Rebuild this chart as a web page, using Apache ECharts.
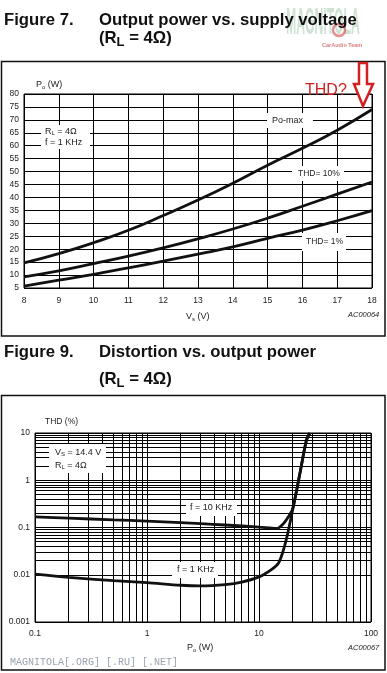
<!DOCTYPE html>
<html><head><meta charset="utf-8">
<script src="https://cdn.jsdelivr.net/npm/echarts@6/dist/echarts.min.js"></script>
<style>html,body{margin:0;padding:0;background:#fff}#c{width:387px;height:673px}</style>
</head><body><div id="c"></div>
<script>
// ---- Figure 7 data: output power vs supply voltage ----
const supplyVoltage = [8, 9, 10, 11, 12, 13, 14, 15, 16, 17, 18];
const poMax   = [14.7, 18.3, 22.5, 27.3, 33, 39, 45.5, 52.5, 59, 66, 74];
const poThd10 = [9.3, 11.6, 14.4, 17.3, 20.5, 24, 27.8, 32, 36.6, 41.3, 46];
const poThd1  = [5.7, 8, 10.3, 12.8, 15.4, 18.1, 20.9, 24.2, 27.4, 31, 34.9];

// ---- Figure 9 data: distortion vs output power ----
const power1k = [0.1, 0.2, 0.5, 1, 2, 3, 5, 7, 10, 13, 14.9, 16.3, 17.8, 20, 23.2, 26.5, 28.5];
const thd1k   = [0.0103, 0.0088, 0.0075, 0.0068, 0.006, 0.0058, 0.0062, 0.007, 0.009, 0.013, 0.0175, 0.03, 0.065, 0.24, 1.4, 7, 10];
const power10k = [0.1, 0.2, 0.5, 1, 2, 3, 5, 10, 14.4, 16.5, 18.3, 20, 23.2, 26.5, 28.5];
const thd10k   = [0.168, 0.158, 0.145, 0.137, 0.127, 0.121, 0.113, 0.102, 0.095, 0.12, 0.168, 0.25, 1.4, 7, 10];

const logXDecades = [0.1, 1, 10];
const logYDecades = [0.001, 0.01, 0.1, 1];

const FONT = "'Liberation Sans', Arial, Helvetica, sans-serif";
const cv = document.createElement('canvas').getContext('2d');
function tw(t, font) { cv.font = font; return cv.measureText(t).width; }
function run(x, y, parts, d) {
  const els = []; let cx = x;
  for (const p of parts) {
    const size = p.s || d.s; const w = p.w || d.w || 'normal';
    const font = `${w} ${size}px ${FONT}`;
    els.push({type: 'text', x: cx, y: y + (p.dy || 0), z: 100, silent: true,
      style: {text: p.t, font: font, fill: p.c || d.c || '#222', align: 'left', verticalAlign: 'middle'}});
    cx += tw(p.t, font);
  }
  return els;
}
function whiteBox(x, y, w, h) {
  return {type: 'rect', z: 99, silent: true, shape: {x: x, y: y, width: w, height: h}, style: {fill: '#fff'}};
}
const zip = (a, b) => a.map((v, i) => [v, b[i]]);

const minorX = [], minorY = [];
logXDecades.forEach(d => { for (let k = 2; k <= 9; k++) minorX.push(+(d * k).toPrecision(4)); });
logYDecades.forEach(d => { for (let k = 2; k <= 9; k++) minorY.push(+(d * k).toPrecision(4)); });

const lineStyleCurve = {color: '#111', width: 2.8};
const axisLbl = {fontSize: 8.5, color: '#222', fontFamily: FONT};
const splitBlack = {show: true, lineStyle: {color: '#000', width: 1}};
const fmtLog = v => String(+(+v).toPrecision(4));

const graphics = [].concat(
  // frames
  [{type: 'rect', z: 98, silent: true, shape: {x: 1.5, y: 61.5, width: 383.5, height: 274.5}, style: {fill: 'none', stroke: '#111', lineWidth: 1.5}},
   {type: 'rect', z: 98, silent: true, shape: {x: 1.5, y: 395.5, width: 383.5, height: 274.5}, style: {fill: 'none', stroke: '#111', lineWidth: 1.5}}],
  // titles
  run(4, 20, [{t: 'Figure 7.'}], {s: 16.7, w: 'bold', c: '#111'}),
  run(99, 20, [{t: 'Output power vs. supply voltage'}], {s: 16.7, w: 'bold', c: '#111'}),
  run(99, 38, [{t: '(R'}, {t: 'L', s: 13, dy: 4}, {t: ' = 4Ω)'}], {s: 16.7, w: 'bold', c: '#111'}),
  run(4, 352.5, [{t: 'Figure 9.'}], {s: 16.7, w: 'bold', c: '#111'}),
  run(99, 352.5, [{t: 'Distortion vs. output power'}], {s: 16.7, w: 'bold', c: '#111'}),
  run(99, 379, [{t: '(R'}, {t: 'L', s: 13, dy: 4}, {t: ' = 4Ω)'}], {s: 16.7, w: 'bold', c: '#111'}),
  // watermark top
  [{type: 'text', x: 286, y: 24, z: 97, silent: true, scaleX: 0.34, style: {text: 'MAGNITOLA', font: `bold 36px ${FONT}`, fill: 'rgba(150,190,160,0.45)', verticalAlign: 'middle'}},
   {type: 'circle', z: 97, silent: true, shape: {cx: 339, cy: 30, r: 6}, style: {fill: 'none', stroke: 'rgba(210,70,70,0.6)', lineWidth: 2.5}},
   {type: 'text', x: 322, y: 45, z: 97, silent: true, style: {text: 'CarAudio Team', font: `bold 5.5px ${FONT}`, fill: 'rgba(200,70,70,0.7)', verticalAlign: 'middle'}}],
  // red annotation
  run(305, 91, [{t: 'THD?'}], {s: 16, c: '#d42020'}),
  [{type: 'polygon', z: 101, silent: true,
    shape: {points: [[359, 63], [367, 63], [367, 84], [373, 84], [363, 106], [354, 84], [359, 84]]},
    style: {fill: '#fff', stroke: '#d42020', lineWidth: 2.5}}],
  // top chart labels
  run(36, 85, [{t: 'P'}, {t: 'o', s: 6, dy: 2}, {t: ' (W)'}], {s: 9}),
  run(186, 317, [{t: 'V'}, {t: 's', s: 6, dy: 2}, {t: ' (V)'}], {s: 9}),
  run(348, 315, [{t: 'AC00064'}], {s: 7.5, w: 'italic'}),
  [whiteBox(41, 125, 49, 24)],
  run(45, 131.5, [{t: 'R'}, {t: 'L', s: 6, dy: 1.5}, {t: ' = 4Ω'}], {s: 9}),
  run(45, 142.5, [{t: 'f = 1 KHz'}], {s: 9}),
  [whiteBox(267, 113, 46, 15)],
  run(272, 121, [{t: 'Po-max'}], {s: 9}),
  [whiteBox(292, 166, 52, 15)],
  run(298, 174, [{t: 'THD= 10%'}], {s: 8.5}),
  [whiteBox(302, 233, 44, 18)],
  run(306, 242, [{t: 'THD= 1%'}], {s: 8.5}),
  // bottom chart labels
  run(45, 422, [{t: 'THD (%)'}], {s: 8.5}),
  [whiteBox(49, 444, 57, 29)],
  run(55, 452.5, [{t: 'V'}, {t: 'S', s: 6, dy: 1.5}, {t: ' = 14.4 V'}], {s: 9}),
  run(55, 466, [{t: 'R'}, {t: 'L', s: 6, dy: 1.5}, {t: ' = 4Ω'}], {s: 9}),
  [whiteBox(186, 500, 51, 16)],
  run(190, 508, [{t: 'f = 10 KHz'}], {s: 9}),
  [whiteBox(172, 562, 46, 16)],
  run(177, 570, [{t: 'f = 1 KHz'}], {s: 9}),
  run(187, 648, [{t: 'P'}, {t: 'o', s: 6, dy: 2}, {t: ' (W)'}], {s: 9}),
  run(348, 648, [{t: 'AC00067'}], {s: 7.5, w: 'italic'}),
  [{type: 'text', x: 10, y: 662, z: 100, silent: true, style: {text: 'MAGNITOLA[.ORG] [.RU] [.NET]', font: "10px 'Liberation Mono', 'DejaVu Sans Mono', monospace", fill: '#9aa4b0', verticalAlign: 'middle'}}]
);

const chart = echarts.init(document.getElementById('c'), null, {renderer: 'canvas'});
chart.setOption({
  animation: false,
  backgroundColor: '#fff',
  textStyle: {fontFamily: FONT},
  grid: [
    {left: 24, top: 94, width: 348, height: 194, show: true, borderColor: '#000', borderWidth: 1, backgroundColor: 'transparent'},
    {left: 35, top: 433, width: 336, height: 189, show: true, borderColor: '#000', borderWidth: 1, backgroundColor: 'transparent'}
  ],
  xAxis: [
    {gridIndex: 0, type: 'value', min: 8, max: 18, interval: 1,
     axisLine: {show: false}, axisTick: {show: false}, splitLine: splitBlack,
     axisLabel: Object.assign({margin: 8}, axisLbl)},
    {gridIndex: 1, type: 'log', logBase: 10, min: 0.1, max: 100,
     axisLine: {show: false}, axisTick: {show: false}, splitLine: splitBlack,
     axisLabel: Object.assign({margin: 7, formatter: fmtLog}, axisLbl)}
  ],
  yAxis: [
    {gridIndex: 0, type: 'value', min: 5, max: 80, interval: 5,
     axisLine: {show: false}, axisTick: {show: false}, splitLine: splitBlack,
     axisLabel: Object.assign({margin: 5}, axisLbl)},
    {gridIndex: 1, type: 'log', logBase: 10, min: 0.001, max: 10,
     axisLine: {show: false}, axisTick: {show: false}, splitLine: splitBlack,
     axisLabel: Object.assign({margin: 5, formatter: fmtLog}, axisLbl)}
  ],
  series: [
    {name: 'Po-max', type: 'line', xAxisIndex: 0, yAxisIndex: 0, data: zip(supplyVoltage, poMax), smooth: true, symbol: 'none', lineStyle: lineStyleCurve, z: 5},
    {name: 'THD 10%', type: 'line', xAxisIndex: 0, yAxisIndex: 0, data: zip(supplyVoltage, poThd10), smooth: true, symbol: 'none', lineStyle: lineStyleCurve, z: 5},
    {name: 'THD 1%', type: 'line', xAxisIndex: 0, yAxisIndex: 0, data: zip(supplyVoltage, poThd1), smooth: true, symbol: 'none', lineStyle: lineStyleCurve, z: 5},
    {name: 'minor', type: 'line', xAxisIndex: 1, yAxisIndex: 1, data: [], silent: true, z: 1,
     markLine: {silent: true, symbol: ['none', 'none'], animation: false, label: {show: false},
       lineStyle: {color: '#000', width: 1, type: 'solid'}, emphasis: {disabled: true},
       data: minorX.map(v => ({xAxis: v})).concat(minorY.map(v => ({yAxis: v})))}},
    {name: 'f = 1 KHz', type: 'line', xAxisIndex: 1, yAxisIndex: 1, data: zip(power1k, thd1k), smooth: 0.3, symbol: 'none', lineStyle: lineStyleCurve, z: 5},
    {name: 'f = 10 KHz', type: 'line', xAxisIndex: 1, yAxisIndex: 1, data: zip(power10k, thd10k), smooth: 0.3, symbol: 'none', lineStyle: lineStyleCurve, z: 5}
  ],
  graphic: {elements: graphics}
});
</script></body></html>
